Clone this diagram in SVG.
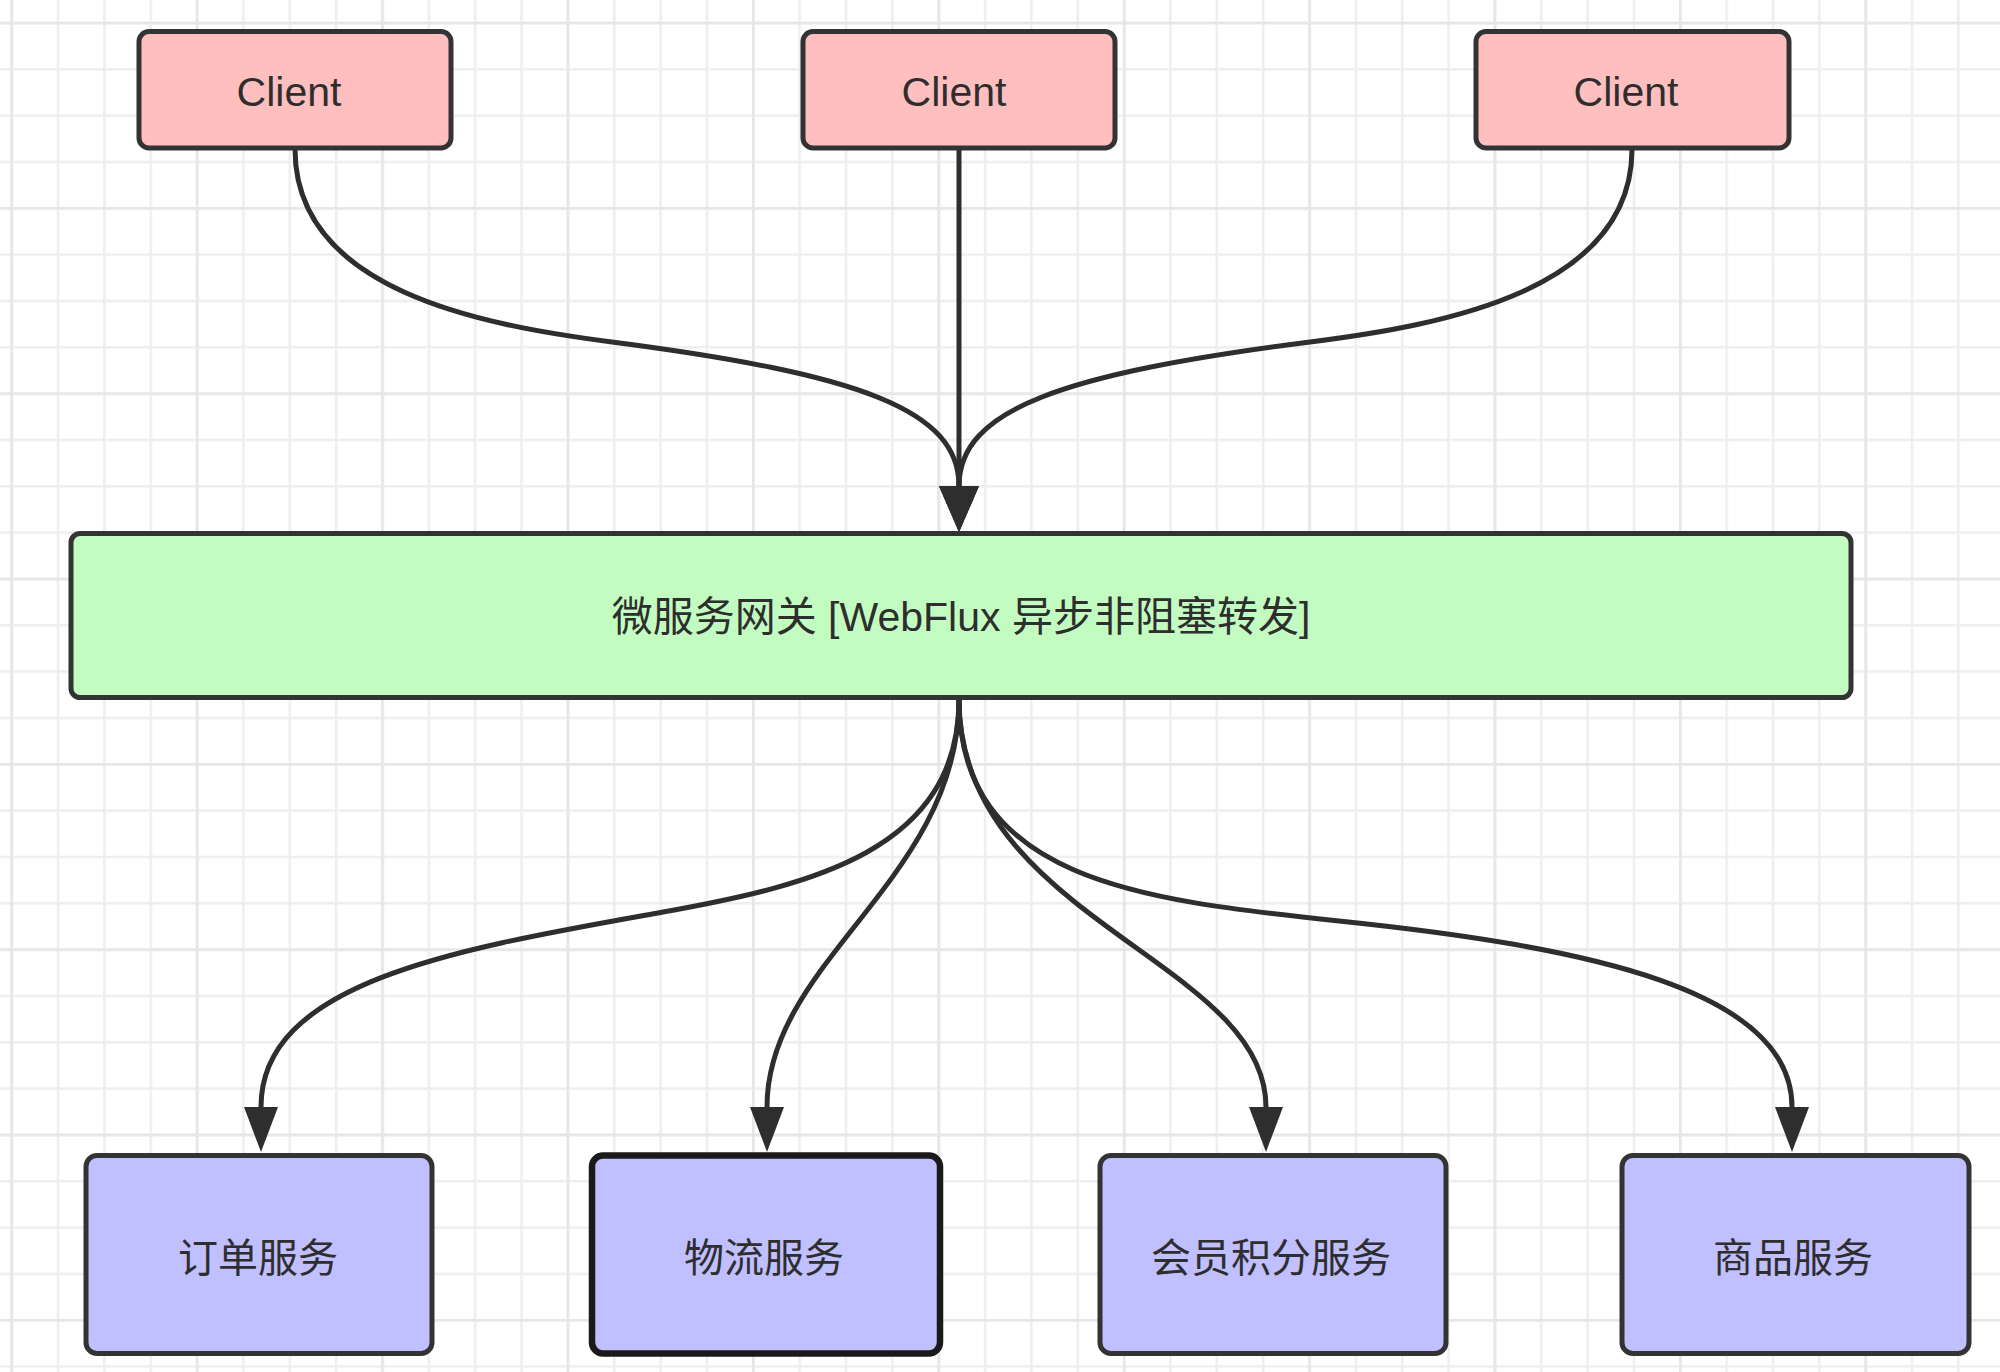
<svg xmlns="http://www.w3.org/2000/svg" width="2000" height="1372" viewBox="0 0 2000 1372">
<style>
.box{stroke:#333;stroke-width:5}
.client{fill:#ffbfbf}
.gw{fill:#c3fcc0}
.svc{fill:#c0bfff}
.lbl{font-family:"Liberation Sans","Noto Sans CJK SC",sans-serif;fill:#2e2e2e;text-anchor:middle}
.conn{fill:none;stroke:#2e2e2e;stroke-width:5}
</style>
<defs>
<pattern id="minor" patternUnits="userSpaceOnUse" x="10.45" y="21.75" width="46.35" height="46.33">
<rect x="0" y="0" width="2.5" height="46.33" fill="#eeeeee"/>
<rect x="0" y="0" width="46.35" height="2.5" fill="#eeeeee"/>
</pattern>
<pattern id="major" patternUnits="userSpaceOnUse" x="10.45" y="21.75" width="185.4" height="185.32">
<rect x="0" y="0" width="2.5" height="185.32" fill="#e6e6e6"/>
<rect x="0" y="0" width="185.4" height="2.5" fill="#e6e6e6"/>
</pattern>
<marker id="arrTop" markerUnits="userSpaceOnUse" viewBox="0 0 46 40" markerWidth="46" markerHeight="40" refX="0" refY="20" orient="auto">
<path d="M0,0 L46,20 L0,40 Z" fill="#2e2e2e"/>
</marker>
<marker id="arr" markerUnits="userSpaceOnUse" viewBox="0 0 45 34" markerWidth="45" markerHeight="34" refX="0" refY="17" orient="auto">
<path d="M0,0 L45,17 L0,34 Z" fill="#2e2e2e"/>
</marker>
</defs>
<rect width="2000" height="1372" fill="#fff"/>
<rect width="2000" height="1372" fill="url(#minor)"/>
<rect width="2000" height="1372" fill="url(#major)"/>

<g id="connectors">
<path class="conn" d="M295,149 C295,290 480,325 612,342 C860,374 959,410 959,486" marker-end="url(#arrTop)"/>
<path class="conn" d="M959,149 L959,486" marker-end="url(#arrTop)"/>
<path class="conn" d="M1632,149 C1632,290 1445,325 1310,342 C1060,374 959,410 959,486" marker-end="url(#arrTop)"/>
<path class="conn" d="M959,699 C959,850 813,885 663,912 C463,948 261,980 261,1107" marker-end="url(#arr)"/>
<path class="conn" d="M959,699 C959,880 767,960 767,1107" marker-end="url(#arr)"/>
<path class="conn" d="M959,699 C959,920 1266,960 1266,1107" marker-end="url(#arr)"/>
<path class="conn" d="M959,699 C959,880 1139,900 1339,921 C1589,947 1792,990 1792,1107" marker-end="url(#arr)"/>
</g>

<g id="client1">
<rect class="box client" x="139" y="31.5" width="312" height="116.5" rx="10"/>
<text class="lbl" x="289" y="106" font-size="41">Client</text>
</g>
<g id="client2">
<rect class="box client" x="803" y="31.5" width="312" height="116.5" rx="10"/>
<text class="lbl" x="954" y="106" font-size="41">Client</text>
</g>
<g id="client3">
<rect class="box client" x="1476" y="31.5" width="313" height="116.5" rx="10"/>
<text class="lbl" x="1626" y="106" font-size="41">Client</text>
</g>

<g id="gateway">
<rect class="box gw" x="71" y="533.5" width="1780" height="164" rx="9"/>
<text class="lbl" x="961" y="631" font-size="41">微服务网关 [WebFlux 异步非阻塞转发]</text>
</g>

<g id="svc-order">
<rect class="box svc" x="86" y="1155.5" width="346" height="198" rx="11"/>
<text class="lbl" x="258" y="1272" font-size="40">订单服务</text>
</g>
<g id="svc-logistics">
<rect class="box svc" x="592" y="1155.5" width="348" height="198" rx="11" style="stroke:#1a1a1a;stroke-width:6.5"/>
<text class="lbl" x="764" y="1272" font-size="40">物流服务</text>
</g>
<g id="svc-points">
<rect class="box svc" x="1100" y="1155.5" width="346" height="198" rx="11"/>
<text class="lbl" x="1271" y="1272" font-size="40">会员积分服务</text>
</g>
<g id="svc-goods">
<rect class="box svc" x="1622" y="1155.5" width="347" height="198" rx="11"/>
<text class="lbl" x="1793" y="1272" font-size="40">商品服务</text>
</g>
</svg>
